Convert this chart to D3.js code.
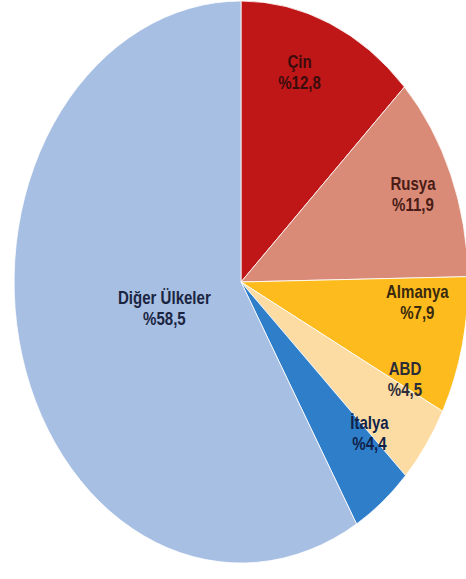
<!DOCTYPE html>
<html>
  <head>
    <meta charset="utf-8" />
    <script src="https://d3js.org/d3.v7.min.js"></script>
    <style>
      body { margin: 0; background: #fff; }
      .label {
        font-family: "Liberation Sans", Arial, sans-serif;
        font-weight: bold;
        font-size: 17.5px;
        text-anchor: middle;
      }
    </style>
  </head>
  <body>

    <svg id="chart" width="466" height="579"></svg>

    <script>

      // data
      var countries = ["Çin", "Rusya", "Almanya", "ABD", "İtalya", "Diğer Ülkeler"];
      var shares = [12.8, 11.9, 7.9, 4.5, 4.4, 58.5];
      var shareLabels = ["%12,8", "%11,9", "%7,9", "%4,5", "%4,4", "%58,5"];

      var colors = ["#bf1718", "#d98b78", "#fdbb1e", "#fcdca2", "#2e7ec9", "#a7bfe3"];
      var textColors = ["#3a0c0c", "#4a1c16", "#3a2a0e", "#2b2b3a", "#10224a", "#1b2542"];

      // label placement: radius factor and angle nudge (degrees) per slice
      var labelRadius = [0.79, 0.82, 0.78, 0.80, 0.78, 0.35];
      var labelNudge = [-4, 0, -8, -10, -8, 0];

      var cx = 241, cy = 282, rx = 227, ry = 281;

      var svg = d3.select("#chart");

      var pie = d3.pie().sort(null).value(function(d) { return d; });
      var arcs = pie(shares);

      var arc = d3.arc().innerRadius(0).outerRadius(1);

      var g = svg.append("g")
        .attr("transform", "translate(" + cx + "," + cy + ") scale(" + rx + "," + ry + ")");

      g.selectAll("path")
        .data(arcs)
        .enter().append("path")
        .attr("d", arc)
        .attr("fill", function(d, i) { return colors[i]; })
        .attr("stroke", "#fff")
        .attr("stroke-width", 0.8)
        .attr("vector-effect", "non-scaling-stroke");

      var labels = svg.append("g")
        .attr("transform", "translate(" + cx + "," + cy + ")");

      labels.selectAll("text")
        .data(arcs)
        .enter().append("text")
        .attr("class", "label")
        .attr("fill", function(d, i) { return textColors[i]; })
        .attr("transform", function(d, i) {
          var a = (d.startAngle + d.endAngle) / 2 + labelNudge[i] * Math.PI / 180;
          var x = Math.sin(a) * labelRadius[i] * rx;
          var y = -Math.cos(a) * labelRadius[i] * ry;
          return "translate(" + x + "," + y + ") scale(0.86,1)";
        })
        .each(function(d, i) {
          var t = d3.select(this);
          t.append("tspan").attr("x", 0).attr("y", -4).text(countries[i]);
          t.append("tspan").attr("x", 0).attr("y", 17).text(shareLabels[i]);
        });

    </script>

  </body>
</html>
